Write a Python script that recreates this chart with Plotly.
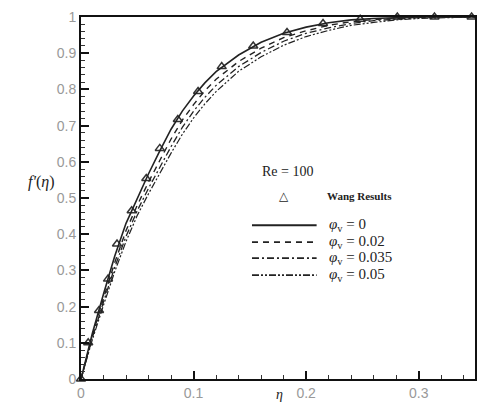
import plotly.graph_objects as go

# Wang results (triangles)
wang_eta = [0.0, 0.0064, 0.016, 0.024, 0.032, 0.045, 0.058, 0.070, 0.086, 0.104,
            0.125, 0.153, 0.183, 0.215, 0.248, 0.281, 0.314, 0.347]
wang_fp = [0.0, 0.10, 0.189, 0.276, 0.373, 0.465, 0.554, 0.637, 0.717, 0.794,
           0.863, 0.920, 0.957, 0.982, 0.994, 1.0, 1.0, 1.0]

eta = [0.0, 0.005, 0.01, 0.02, 0.03, 0.04, 0.05, 0.06, 0.07, 0.08, 0.09, 0.10,
       0.11, 0.12, 0.14, 0.16, 0.18, 0.20, 0.22, 0.24, 0.26, 0.28, 0.30, 0.32, 0.35]
fp_phi0 = [0.0, 0.065, 0.125, 0.235, 0.34, 0.43, 0.50, 0.567, 0.63, 0.69, 0.74, 0.782,
           0.818, 0.849, 0.895, 0.93, 0.955, 0.972, 0.984, 0.992, 0.996, 0.999, 1.0, 1.0, 1.0]
fp_phi002 = [0.0, 0.061, 0.118, 0.223, 0.322, 0.41, 0.48, 0.544, 0.605, 0.663, 0.715, 0.758,
             0.796, 0.828, 0.877, 0.914, 0.943, 0.962, 0.977, 0.987, 0.993, 0.997, 0.999, 1.0, 1.0]
fp_phi0035 = [0.0, 0.058, 0.113, 0.213, 0.309, 0.394, 0.465, 0.527, 0.586, 0.642, 0.695, 0.74,
              0.778, 0.811, 0.863, 0.902, 0.933, 0.955, 0.970, 0.982, 0.990, 0.994, 0.998, 0.9995, 1.0]
fp_phi005 = [0.0, 0.056, 0.108, 0.204, 0.297, 0.38, 0.452, 0.512, 0.569, 0.624, 0.676, 0.721,
             0.76, 0.794, 0.85, 0.89, 0.922, 0.946, 0.963, 0.977, 0.985, 0.992, 0.996, 0.998, 1.0]

phi_labels = ["0", "0.02", "0.035", "0.05"]
series_vals = [fp_phi0, fp_phi002, fp_phi0035, fp_phi005]

# styles (kept separate from data)
dashes = ["solid", "6px,5px", "7px,3px,2px,3px", "7px,2px,2px,2px,2px,2px"]
widths = [1.6, 1.4, 1.3, 1.2]
INK = "#222"

fig = go.Figure()
fig.add_trace(go.Scatter(
    x=wang_eta, y=wang_fp, mode="markers", name="Wang Results",
    marker=dict(symbol="triangle-up-open", size=8, color="#333",
                line=dict(width=1.5, color="#333")),
    cliponaxis=False, showlegend=False,
))
for lab, ys, dash, w in zip(phi_labels, series_vals, dashes, widths):
    fig.add_trace(go.Scatter(
        x=eta, y=ys, mode="lines", name="φv = " + lab, showlegend=False,
        line=dict(color=INK, width=w, dash=dash),
    ))

axis_common = dict(
    showline=True, linecolor="#111", linewidth=2, mirror=True,
    ticks="inside", ticklen=8, tickwidth=2, tickcolor="#111",
    showgrid=False, zeroline=False,
    tickfont=dict(family="Liberation Sans", size=14, color="#999"),
    minor=dict(ticks="inside", ticklen=4, tickwidth=1, tickcolor="#333", dtick=0.02),
    dtick=0.1,
)

# manual legend (paper coordinates)
leg_x0, leg_x1, leg_tx = 0.434, 0.598, 0.625
leg_ys = [0.425, 0.378, 0.334, 0.287]
shapes = []
annotations = []
for lab, dash, w, yy in zip(phi_labels, dashes, widths, leg_ys):
    shapes.append(dict(type="line", xref="paper", yref="paper",
                       x0=leg_x0, x1=leg_x1, y0=yy, y1=yy,
                       line=dict(color=INK, width=w + 0.4, dash=dash)))
    annotations.append(dict(
        text="<i>φ</i><sub>v</sub> = " + lab, x=leg_tx, y=yy, xref="paper", yref="paper",
        showarrow=False, xanchor="left", yanchor="middle",
        font=dict(family="Liberation Serif", size=15, color=INK)))

annotations += [
    dict(text="△", x=0.516, y=0.506, xref="paper", yref="paper", showarrow=False,
         font=dict(family="DejaVu Sans", size=12, color=INK)),
    dict(text="<b>Wang Results</b>", x=0.62, y=0.506, xref="paper", yref="paper",
         showarrow=False, xanchor="left", yanchor="middle",
         font=dict(family="Liberation Serif", size=11, color=INK)),
    dict(text="Re = 100", x=0.455, y=0.572, xref="paper", yref="paper",
         showarrow=False, xanchor="left", yanchor="middle",
         font=dict(family="Liberation Serif", size=14, color=INK)),
    dict(text="<i>f'</i>(<i>η</i>)", x=-0.14, y=0.545, xref="paper", yref="paper",
         showarrow=False, font=dict(family="Liberation Serif", size=16, color=INK)),
    dict(text="<i>η</i>", x=0.503, y=-0.07, xref="paper", yref="paper",
         showarrow=False, font=dict(family="Liberation Serif", size=14, color=INK)),
]

fig.update_layout(
    width=479, height=412,
    margin=dict(l=81, r=2, t=17, b=33),
    paper_bgcolor="white", plot_bgcolor="white",
    xaxis=dict(range=[0, 0.35], tick0=0, **axis_common),
    yaxis=dict(range=[0, 1], tick0=0, **axis_common),
    showlegend=False,
    shapes=shapes,
    annotations=annotations,
)

fig.write_html("out.html")
